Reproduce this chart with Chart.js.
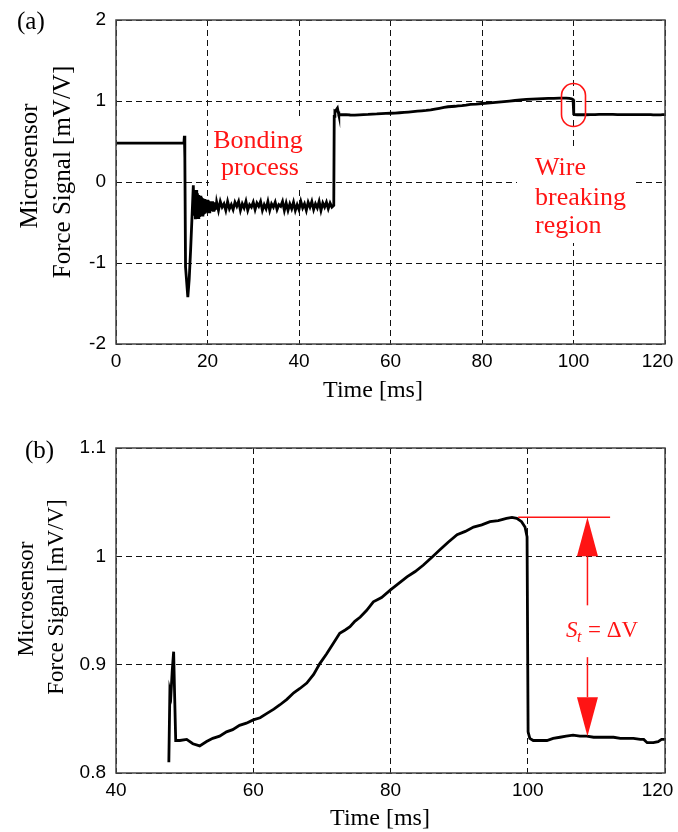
<!DOCTYPE html>
<html>
<head>
<meta charset="utf-8">
<script src="https://cdn.jsdelivr.net/npm/chart.js@4.4.1/dist/chart.umd.min.js"></script>
<style>
  html, body { margin: 0; padding: 0; background: #fff; }
  .panel { position: absolute; left: 0; width: 678px; }
  #panelA { top: 0; height: 415px; }
  #panelB { top: 415px; height: 417px; }
</style>
</head>
<body>
<div class="panel" id="panelA"><canvas id="chartA"></canvas></div>
<div class="panel" id="panelB"><canvas id="chartB"></canvas></div>
<script>
// (a) start of the trace: resting level, touchdown dip, ringing
const timeA = [0, 14.85, 14.95, 15.05, 15.2, 15.7, 16.0, 16.3, 16.6, 16.9,
  17.05, 17.2, 17.35, 17.5, 17.65, 17.8, 17.95, 18.1, 18.25, 18.4,
  18.55, 18.7, 18.85, 19.0, 19.15, 19.3, 19.45, 19.6, 19.75, 19.9,
  20.05, 20.2, 20.35, 20.5, 20.65, 20.8, 20.95, 21.1, 21.25, 21.4,
  21.55, 21.7, 21.85, 22.0];
const signalA = [0.48, 0.48, 0.57, 0.3, -1.05, -1.42, -1.2, -0.85, -0.45, -0.04,
  -0.4, -0.12, -0.46, -0.1, -0.45, -0.14, -0.44, -0.16, -0.43, -0.17,
  -0.42, -0.19, -0.41, -0.2, -0.4, -0.21, -0.39, -0.22, -0.38, -0.22,
  -0.37, -0.23, -0.37, -0.24, -0.36, -0.24, -0.36, -0.24, -0.35, -0.25,
  -0.35, -0.25, -0.34, -0.25];

// (a) noisy plateau during bonding
const noiseTime = [22.4, 22.8, 23.2, 23.6, 24.0, 24.4, 24.8, 25.2, 25.6, 26.0,
  26.4, 26.8, 27.2, 27.6, 28.0, 28.4, 28.8, 29.2, 29.6, 30.0,
  30.4, 30.8, 31.2, 31.6, 32.0, 32.4, 32.8, 33.2, 33.6, 34.0,
  34.4, 34.8, 35.2, 35.6, 36.0, 36.4, 36.8, 37.2, 37.6, 38.0,
  38.4, 38.8, 39.2, 39.6, 40.0, 40.4, 40.8, 41.2, 41.6, 42.0,
  42.4, 42.8, 43.2, 43.6, 44.0, 44.4, 44.8, 45.2, 45.6, 46.0,
  46.4, 46.8, 47.2, 47.6];
const noiseSignal = [-0.35, -0.24, -0.31, -0.27, -0.35, -0.24, -0.33, -0.28, -0.34, -0.25,
  -0.30, -0.24, -0.35, -0.27, -0.32, -0.24, -0.35, -0.28, -0.31, -0.25,
  -0.34, -0.26, -0.30, -0.24, -0.35, -0.28, -0.33, -0.24, -0.35, -0.27,
  -0.31, -0.25, -0.34, -0.28, -0.30, -0.24, -0.35, -0.26, -0.35, -0.27,
  -0.33, -0.25, -0.35, -0.28, -0.34, -0.24, -0.32, -0.27, -0.35, -0.25,
  -0.31, -0.24, -0.34, -0.27, -0.32, -0.24, -0.35, -0.26, -0.31, -0.25,
  -0.33, -0.26, -0.31, -0.29];

// (b) detail 48-120 ms (also the end part of (a))
const timeB = [47.7, 47.85, 48.0, 48.2, 48.4, 48.55, 48.7, 49.3, 50.3, 51.2,
  52.2, 53.2, 54.1, 55.1, 56.1, 57.0, 58.0, 59.0, 60.0, 61.0,
  62.0, 63.0, 63.9, 64.9, 65.9, 66.8, 67.8, 68.8, 69.7, 70.7,
  71.7, 72.6, 73.4, 74.1, 74.8, 75.6, 76.5, 77.5, 78.7, 80.0,
  81.2, 82.4, 83.6, 84.8, 86.0, 87.2, 88.4, 89.7, 90.9, 92.1,
  93.3, 94.5, 95.7, 96.9, 97.7, 98.4, 99.1, 99.6, 99.9, 100.05,
  100.3, 100.8, 101.8, 102.8, 103.7, 104.7, 105.6, 106.6, 107.6, 108.6,
  109.6, 110.6, 111.5, 112.5, 113.5, 114.4, 115.4, 116.4, 116.9, 117.4,
  118.3, 119.0, 119.5, 120];
const signalB = [0.810, 0.876, 0.872, 0.895, 0.912, 0.870, 0.830, 0.830, 0.831, 0.827,
  0.825, 0.829, 0.832, 0.834, 0.838, 0.840, 0.844, 0.846, 0.849, 0.851,
  0.855, 0.859, 0.863, 0.868, 0.874, 0.878, 0.883, 0.891, 0.901, 0.910,
  0.920, 0.929, 0.932, 0.935, 0.940, 0.944, 0.950, 0.958, 0.962, 0.969,
  0.975, 0.981, 0.986, 0.992, 0.999, 1.006, 1.013, 1.020, 1.023, 1.027,
  1.029, 1.032, 1.033, 1.035, 1.036, 1.035, 1.032, 1.027, 1.018, 0.838,
  0.832, 0.830, 0.830, 0.830, 0.832, 0.833, 0.834, 0.835, 0.834, 0.834,
  0.833, 0.833, 0.833, 0.833, 0.832, 0.832, 0.832, 0.831, 0.831, 0.828,
  0.828, 0.829, 0.831, 0.831];

const xTicksA = [0, 20, 40, 60, 80, 100, 120];
const yTicksA = [-2, -1, 0, 1, 2];
const xTicksB = [40, 60, 80, 100, 120];
const yTicksB = [0.8, 0.9, 1, 1.1];

const SERIF = '"Liberation Serif", "Times New Roman", serif';
const SANS = '"Liberation Sans", Arial, sans-serif';
const RED = '#ff1414';
const TICK_FONT = 19;
const X_PAD = 6;

function toPoints(ts, vs) {
  return ts.map((t, i) => ({ x: t, y: vs[i] }));
}

function axis(ticks, fit, pad, hideLast) {
  const last = ticks[ticks.length - 1];
  return {
    type: 'linear',
    min: ticks[0],
    max: last,
    afterBuildTicks: s => { s.ticks = ticks.map(v => ({ value: v })); },
    afterFit: fit,
    grid: { color: '#111', lineWidth: 1, drawTicks: false },
    border: { display: false, dash: [6, 4] },
    ticks: {
      color: '#000', padding: pad, autoSkip: false, maxRotation: 0,
      font: { family: SANS, size: TICK_FONT },
      // the last x label would run off the page: drawn by hand, pulled inside
      callback: v => (hideLast && v === last) ? '' : String(v)
    }
  };
}

function buildOptions(xTicks, yTicks, padTop, xAxisH) {
  return {
    responsive: true,
    maintainAspectRatio: false,
    animation: false,
    devicePixelRatio: 1,
    layout: { padding: { top: padTop, right: 13, bottom: 0, left: 0 } },
    plugins: { legend: { display: false }, tooltip: { enabled: false } },
    scales: {
      x: axis(xTicks, s => { s.height = xAxisH; s.paddingLeft = 0; s.paddingRight = 0; }, X_PAD, true),
      y: axis(yTicks, s => { s.width = 116; s.paddingTop = 0; s.paddingBottom = 0; }, 10, false)
    }
  };
}

// helpers for text and marks drawn on top
function say(ctx, str, x, y, font, color, align) {
  ctx.font = font;
  ctx.fillStyle = color;
  ctx.textAlign = align || 'left';
  ctx.textBaseline = 'alphabetic';
  ctx.fillText(str, x, y);
}
function sayUp(ctx, str, x, y, font) {
  ctx.save();
  ctx.translate(x, y);
  ctx.rotate(-Math.PI / 2);
  say(ctx, str, 0, 0, font, '#000', 'center');
  ctx.restore();
}
function lastLabel(ctx, ca, str) {
  ctx.font = TICK_FONT + 'px ' + SANS;
  ctx.fillStyle = '#000';
  ctx.textAlign = 'center';
  ctx.textBaseline = 'middle';
  ctx.fillText(str, ca.right - 7.5, ca.bottom + X_PAD + TICK_FONT * 0.6);
}
function frame(ctx, ca) {
  ctx.strokeStyle = '#444';
  ctx.lineWidth = 1.5;
  ctx.strokeRect(ca.left, ca.top, ca.right - ca.left, ca.bottom - ca.top);
}
function seg(ctx, x1, y1, x2, y2) {
  ctx.beginPath(); ctx.moveTo(x1, y1); ctx.lineTo(x2, y2); ctx.stroke();
}
function tri(ctx, tx, ty, dir) {
  // dir = 1 : tip up, -1 : tip down
  ctx.beginPath();
  ctx.moveTo(tx, ty);
  ctx.lineTo(tx - 10.5, ty + dir * 39);
  ctx.lineTo(tx + 10.5, ty + dir * 39);
  ctx.closePath();
  ctx.fill();
}

const decorA = {
  id: 'decorA',
  afterDraw(chart) {
    const { ctx, chartArea: ca, scales: { x, y } } = chart;
    ctx.save();
    // white patches behind the red notes
    ctx.fillStyle = '#fff';
    ctx.fillRect(209, 118, 93, 68);
    ctx.fillRect(517, 150, 115, 93);
    frame(ctx, ca);
    lastLabel(ctx, ca, String(xTicksA[xTicksA.length - 1]));

    say(ctx, '(a)', 17, 29, '25px ' + SERIF, '#000');
    sayUp(ctx, 'Microsensor', 37, 166, '25px ' + SERIF);
    sayUp(ctx, 'Force Signal [mV/V]', 70, 172, '25px ' + SERIF);
    say(ctx, 'Time [ms]', 373, 397, '24px ' + SERIF, '#000', 'center');

    say(ctx, 'Bonding', 258, 148, '26px ' + SERIF, RED, 'center');
    say(ctx, 'process', 260, 175, '26px ' + SERIF, RED, 'center');
    say(ctx, 'Wire', 535, 175, '26px ' + SERIF, RED);
    say(ctx, 'breaking', 535, 205, '26px ' + SERIF, RED);
    say(ctx, 'region', 535, 233, '26px ' + SERIF, RED);

    // marker round the break
    const cx = x.getPixelForValue(100), cy = y.getPixelForValue(0.95);
    ctx.strokeStyle = RED;
    ctx.lineWidth = 1.6;
    ctx.beginPath();
    ctx.roundRect(cx - 12, cy - 21.5, 24, 43, 12);
    ctx.stroke();
    ctx.restore();
  }
};

const decorB = {
  id: 'decorB',
  afterDraw(chart) {
    const { ctx, chartArea: ca, scales: { x, y } } = chart;
    ctx.save();
    frame(ctx, ca);
    lastLabel(ctx, ca, String(xTicksB[xTicksB.length - 1]));

    say(ctx, '(b)', 25, 43, '25px ' + SERIF, '#000');
    sayUp(ctx, 'Microsensor', 33, 184, '23px ' + SERIF);
    sayUp(ctx, 'Force Signal [mV/V]', 63, 182, '23px ' + SERIF);
    say(ctx, 'Time [ms]', 380, 410, '24px ' + SERIF, '#000', 'center');

    // step height S_t
    const peak = Math.max(...signalB);
    const xa = x.getPixelForValue(108.7);
    const yTop = y.getPixelForValue(peak);
    const yBot = y.getPixelForValue(0.834);
    ctx.strokeStyle = RED;
    ctx.fillStyle = RED;
    ctx.lineWidth = 1.5;
    seg(ctx, x.getPixelForValue(98.6), yTop, x.getPixelForValue(112), yTop);
    tri(ctx, xa, yTop, 1);
    seg(ctx, xa, yTop + 39, xa, yTop + 88);
    seg(ctx, xa, yBot - 79, xa, yBot - 39);
    tri(ctx, xa, yBot, -1);

    say(ctx, 'S', 566, 222, 'italic 23px ' + SERIF, RED);
    say(ctx, 't', 577, 227, 'italic 16px ' + SERIF, RED);
    say(ctx, '= \u0394V', 588, 222, '23px ' + SERIF, RED);
    ctx.restore();
  }
};

function lineSet(points) {
  return {
    data: points,
    borderColor: '#000',
    borderWidth: 2.8,
    pointRadius: 0,
    tension: 0,
    fill: false
  };
}

new Chart(document.getElementById('chartA'), {
  type: 'line',
  data: {
    datasets: [lineSet(toPoints(
      timeA.concat(noiseTime, timeB),
      signalA.concat(noiseSignal, signalB)
    ))]
  },
  options: buildOptions(xTicksA, yTicksA, 20, 71),
  plugins: [decorA]
});

new Chart(document.getElementById('chartB'), {
  type: 'line',
  data: { datasets: [lineSet(toPoints(timeB, signalB))] },
  options: buildOptions(xTicksB, yTicksB, 33, 59),
  plugins: [decorB]
});
</script>
</body>
</html>
